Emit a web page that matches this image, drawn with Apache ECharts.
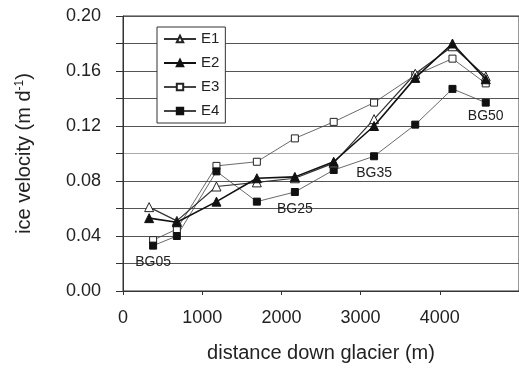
<!DOCTYPE html>
<html>
<head>
<meta charset="utf-8">
<script src="https://cdn.jsdelivr.net/npm/echarts@6/dist/echarts.min.js"></script>
<style>
  html, body { margin: 0; padding: 0; background: #fff; }
  #chart { width: 519px; height: 368px; }
</style>
</head>
<body>
<div id="chart"></div>
<script>
// distance down glacier (m) for each stake line
const distE1E2 = [330, 680, 1180, 1690, 2170, 2660, 3170, 3690, 4160, 4580];
const distE3E4 = [380, 680, 1180, 1690, 2170, 2660, 3170, 3690, 4160, 4580];

// ice velocity (m d-1)
const velE1 = [0.061, 0.051, 0.076, 0.079, 0.082, 0.093, 0.125, 0.158, 0.178, 0.156];
const velE2 = [0.053, 0.050, 0.065, 0.082, 0.083, 0.094, 0.120, 0.155, 0.180, 0.154];
const velE3 = [0.037, 0.045, 0.091, 0.094, 0.111, 0.123, 0.137, 0.157, 0.169, 0.151];
const velE4 = [0.033, 0.040, 0.087, 0.065, 0.072, 0.088, 0.098, 0.121, 0.147, 0.137];

// stake names written under the E4 points
const stakeLabels = { 0: 'BG05', 4: 'BG25', 6: 'BG35', 9: 'BG50' };

const FONT = 'Liberation Sans, Arial, sans-serif';
const INK = '#222';

const pairs = (xs, ys) => xs.map((x, i) => [x, ys[i]]);

const chart = echarts.init(document.getElementById('chart'), null, { renderer: 'canvas' });

const e4Data = pairs(distE3E4, velE4).map((p, i) => {
  if (!stakeLabels[i]) return p;
  return {
    value: p,
    label: {
      show: true,
      position: 'bottom',
      distance: i === 9 ? 3 : 6,
      formatter: stakeLabels[i],
      fontFamily: FONT,
      fontSize: 14,
      color: INK
    }
  };
});

// 0.10 gridline is lighter in the original
const gridColors = ['#555', '#555', '#555', '#555', '#555', '#aaa', '#555', '#555', '#555', '#555', '#555'];

const option = {
  animation: false,
  backgroundColor: '#fff',
  textStyle: { fontFamily: FONT, color: INK },
  grid: {
    left: 123,
    top: 16,
    width: 400,
    height: 277,
    show: true,
    borderColor: '#333',
    borderWidth: 1
  },
  legend: {
    orient: 'vertical',
    left: 157,
    top: 27,
    padding: [4, 6, 4, 6],
    itemWidth: 32,
    itemHeight: 8,
    itemGap: 8,
    backgroundColor: '#fff',
    borderColor: '#333',
    borderWidth: 1,
    textStyle: { fontFamily: FONT, fontSize: 15, lineHeight: 16, color: INK },
    data: ['E1', 'E2', 'E3', 'E4']
  },
  xAxis: {
    type: 'value',
    min: 0,
    max: 5000,
    interval: 1000,
    name: 'distance down glacier (m)',
    nameLocation: 'middle',
    nameGap: 52,
    nameTextStyle: { fontFamily: FONT, fontSize: 20, color: INK },
    axisLine: { show: true, lineStyle: { color: '#333', width: 1 } },
    axisTick: { show: true, length: 4, lineStyle: { color: '#333' } },
    axisLabel: {
      fontFamily: FONT,
      fontSize: 18,
      color: INK,
      margin: 18,
      showMaxLabel: false,
      formatter: v => String(v)
    },
    splitLine: { show: false }
  },
  yAxis: {
    type: 'value',
    min: 0,
    max: 0.2,
    interval: 0.02,
    name: 'ice velocity (m d{sup|-1})',
    nameLocation: 'middle',
    nameGap: 89,
    nameTextStyle: {
      fontFamily: FONT,
      fontSize: 20,
      color: INK,
      rich: {
        sup: { fontFamily: FONT, fontSize: 12, color: INK, verticalAlign: 'top', lineHeight: 20 }
      }
    },
    axisLine: { show: true, lineStyle: { color: '#333', width: 1 } },
    axisTick: { show: true, length: 7, lineStyle: { color: '#333' } },
    axisLabel: {
      fontFamily: FONT,
      fontSize: 18,
      color: INK,
      margin: 22,
      formatter: v => (Math.round(v * 100) % 4 === 0 ? v.toFixed(2) : '')
    },
    splitLine: { show: true, lineStyle: { color: gridColors, width: 1 } }
  },
  series: [
    {
      name: 'E1',
      type: 'line',
      data: pairs(distE1E2, velE1),
      symbol: 'triangle',
      symbolSize: 9,
      showAllSymbol: true,
      lineStyle: { color: '#333', width: 1.2 },
      itemStyle: { color: '#fff', borderColor: '#222', borderWidth: 1 },
      z: 3
    },
    {
      name: 'E2',
      type: 'line',
      data: pairs(distE1E2, velE2),
      symbol: 'triangle',
      symbolSize: 9,
      lineStyle: { color: '#111', width: 1.6 },
      itemStyle: { color: '#111', borderColor: '#111', borderWidth: 1 },
      z: 4
    },
    {
      name: 'E3',
      type: 'line',
      data: pairs(distE3E4, velE3),
      symbol: 'rect',
      symbolSize: 7,
      lineStyle: { color: '#444', width: 0.8 },
      itemStyle: { color: '#fff', borderColor: '#222', borderWidth: 1 },
      z: 2
    },
    {
      name: 'E4',
      type: 'line',
      data: e4Data,
      symbol: 'rect',
      symbolSize: 7,
      lineStyle: { color: '#444', width: 0.8 },
      itemStyle: { color: '#111', borderColor: '#111', borderWidth: 1 },
      z: 2
    }
  ]
};

chart.setOption(option);
</script>
</body>
</html>
